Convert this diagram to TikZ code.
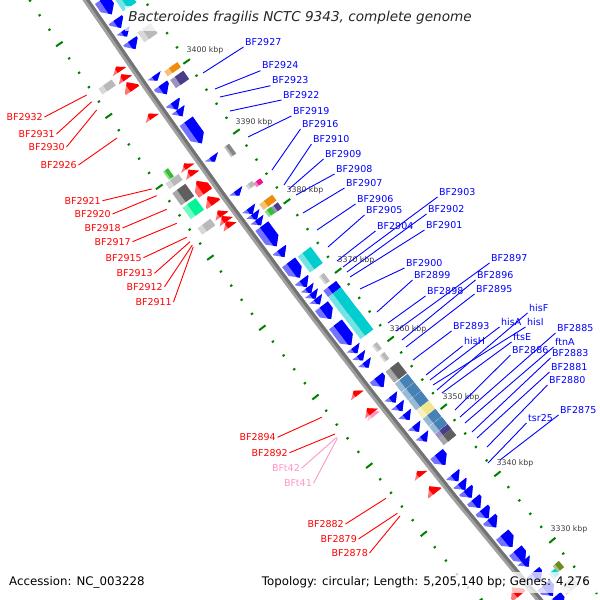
\documentclass[tikz,border=0pt]{standalone}
\usepackage{fontspec}
\setmainfont{DejaVu Sans}
\usetikzlibrary{calc}

\definecolor{gblue}{RGB}{0,0,255}
\definecolor{gred}{RGB}{255,0,0}
\definecolor{gpink}{RGB}{255,150,200}
\definecolor{tgreen}{RGB}{0,128,0}
\definecolor{gcyan}{RGB}{0,205,205}
\definecolor{lgray}{RGB}{185,185,185}
\definecolor{mgray}{RGB}{135,135,135}
\definecolor{dgray}{RGB}{95,95,95}
\definecolor{gorange}{RGB}{240,140,10}
\definecolor{gslate}{RGB}{72,61,139}
\definecolor{ggreen}{RGB}{50,190,50}
\definecolor{gmint}{RGB}{0,245,150}
\definecolor{gmag}{RGB}{235,20,140}
\definecolor{gsteel}{RGB}{70,130,180}
\definecolor{gkhaki}{RGB}{240,230,140}
\definecolor{golive}{RGB}{110,140,30}
\definecolor{kgray}{RGB}{60,60,60}
\definecolor{bbgray}{RGB}{160,160,160}
\definecolor{bbdark}{RGB}{115,115,115}

\tikzset{
  blab/.style={anchor=south west, inner sep=1.5pt, text=gblue, font=\fontsize{9.5}{11}\selectfont},
  rlab/.style={anchor=east, inner sep=1.5pt, text=gred, font=\fontsize{9.5}{11}\selectfont},
  plab/.style={rlab, text=gpink},
  bline/.style={draw=gblue, line width=0.9pt},
  rline/.style={draw=gred, line width=0.9pt},
  pline/.style={draw=gpink, line width=0.9pt},
  tick/.style={draw=tgreen, line width=2pt},
  kbp/.style={text=kgray, font=\fontsize{7.8}{9}\selectfont, inner sep=0pt},
  capbox/.style={fill=white, fill opacity=0.75},
  bbone/.style={draw=bbgray, line width=6pt},
  bbtop/.style={draw=bbdark, line width=3pt}
}

% one feature: s along the track, length, radial offset, height, kind (0 box, 1 back, 2 fwd), colour
\newcommand\gene[6]{%
  \pgfmathsetmacro\gth{217.35+0.008*(#1)}%
  \pgfmathsetmacro\gpx{6032.1+7178*cos(\gth)}%
  \pgfmathsetmacro\gpy{4020.7+7178*sin(\gth)}%
  \pgfmathsetmacro\gl{(#2)/2}%
  \pgfmathsetmacro\gb{\gl-min(8,#2)}%
  \pgfmathsetmacro\gbn{min(8,#2)-\gl}%
  \pgfmathsetmacro\gya{#3}%
  \pgfmathsetmacro\gm{#3+(#4)/2}%
  \pgfmathsetmacro\gt{#3+(#4)}%
  \pgfmathsetmacro\gc{#3+0.64*(#4)}%
  \ifcase#5
    \def\gpath{(-\gl,\gya) rectangle (\gl,\gt)}%
  \or
    \def\gpath{(\gl,\gya) -- (\gbn,\gya) -- (-\gl,\gm) -- (\gbn,\gt) -- (\gl,\gt) -- cycle}%
  \or
    \def\gpath{(-\gl,\gya) -- (\gb,\gya) -- (\gl,\gm) -- (\gb,\gt) -- (-\gl,\gt) -- cycle}%
  \fi
  \begin{scope}[shift={(\gpx,\gpy)},rotate=\gth-90]
    \fill[#6!55!white] \gpath;
    \begin{scope}
      \clip (-\gl-1,\gya-1) rectangle (\gl+1,\gc);
      \fill[#6] \gpath;
    \end{scope}
  \end{scope}}
\newcommand\bgene[2]{\gene{#1}{#2}{-21}{16}{1}{gblue}}
\newcommand\rgene[2]{\gene{#1}{#2}{5}{16}{2}{gred}}
\newcommand\featin[3]{\gene{#1}{#2}{-40}{16}{0}{#3}}
\newcommand\featout[3]{\gene{#1}{#2}{24}{16}{0}{#3}}

\begin{document}
\begin{tikzpicture}[x=1pt,y=1pt]
  \useasboundingbox (0,0) rectangle (600,-600);
  \coordinate (ctr) at (6032.1,4020.7);
  \begin{scope}
  \clip (0,0) rectangle (600,-600);
  % backbone
  \draw[bbone] plot[smooth,domain=213.8:220.4,samples=25] ({6032.1+7178*cos(\x)},{4020.7+7178*sin(\x)});
  \draw[bbtop] plot[smooth,domain=213.8:220.4,samples=25] ({6032.1+7176.5*cos(\x)},{4020.7+7176.5*sin(\x)});
  % tick rings
  \foreach \k in {3314,3316,...,3424}{
    \pgfmathsetmacro\tth{217.35+(3365-\k)*0.069164}
    \pgfmathtruncatemacro\tmaj{mod(\k,10)==0 ? 1 : 0}
    \pgfmathsetmacro\tl{\tmaj==1 ? 4 : 1.2}
    \pgfmathsetmacro\ia{7130-\tl}
    \pgfmathsetmacro\ib{7130+\tl}
    \pgfmathsetmacro\oa{7225-\tl}
    \pgfmathsetmacro\ob{7225+\tl}
    \draw[tick] ($(ctr)+(\tth:\ia)$) -- ($(ctr)+(\tth:\ib)$);
    \draw[tick] ($(ctr)+(\tth:\oa)$) -- ($(ctr)+(\tth:\ob)$);
  }
  % blue strand
  \bgene{-393.3}{18} \bgene{-372.9}{10} \bgene{-360.9}{7} \bgene{-347.3}{10}
  \bgene{-306.8}{6} \bgene{-292.8}{11} \bgene{-272.8}{9} \bgene{-264.2}{8}
  \bgene{-240.5}{27} \bgene{-207.4}{6} \bgene{-165.6}{6}
  \bgene{-143.4}{7} \bgene{-136.4}{7} \bgene{-129.4}{7}
  \bgene{-112.2}{25} \bgene{-90.9}{9} \bgene{-70.2}{19} \bgene{-53.5}{9}
  \bgene{-44.8}{7} \bgene{-37.8}{7} \bgene{-30.8}{7}
  \bgene{-16.8}{16} \bgene{11.1}{26}
  \bgene{30.8}{7} \bgene{40.0}{7} \bgene{49.2}{7} \bgene{71.0}{12}
  \bgene{92.8}{8} \bgene{103.6}{8} \bgene{115.0}{8} \bgene{130.2}{8} \bgene{142.8}{8}
  \bgene{169.6}{14} \bgene{192.9}{9} \bgene{204.0}{9} \bgene{213.5}{10}
  \bgene{226.4}{11} \bgene{239.7}{11} \bgene{251.5}{11} \bgene{274.5}{16}
  \bgene{294.6}{15} \bgene{304}{8} \bgene{321.1}{12} \bgene{338.9}{14} \bgene{355}{14}
  % inner boxes
  \featin{-388.4}{16}{gcyan} \featin{-348.8}{12}{lgray}
  \featin{-304.5}{6}{gorange} \featin{-292.0}{10}{gslate}
  \gene{-204.7}{12}{-35}{6}{0}{mgray}
  \gene{-164.5}{5}{-32}{8}{0}{lgray} \gene{-161.8}{5}{-40}{8}{0}{gmag}
  \featin{-140.3}{7}{gorange}
  \gene{-131.3}{7}{-32}{8}{0}{ggreen} \gene{-130.9}{7}{-40}{8}{0}{gslate}
  \featin{-68.9}{20}{gcyan} \gene{-45.0}{10}{-35}{6}{0}{lgray}
  \featin{-32}{8}{gblue} \featin{-15.5}{25}{gcyan} \featin{11}{28}{gcyan}
  \gene{41.4}{8}{-35}{6}{0}{lgray} \gene{53.9}{8}{-35}{6}{0}{lgray}
  \featin{73.2}{14}{dgray}
  \featin{86.75}{10.5}{gsteel} \featin{97.75}{10.5}{gsteel} \featin{109.5}{12}{gsteel}
  \featin{121}{10}{gkhaki} \featin{131.25}{9.5}{gsteel} \featin{141}{9}{gsteel}
  \featin{149}{6}{gslate} \featin{156}{8}{dgray}
  \gene{327}{8}{-40}{8}{0}{golive} \gene{330}{7}{-32}{8}{0}{gcyan}
  \featin{349}{10}{lgray}
  % red strand
  \rgene{-335.8}{6} \rgene{-326.2}{7} \rgene{-315.1}{10} \rgene{-278.8}{6}
  \rgene{-217.8}{6} \rgene{-209.9}{7} \rgene{-192.0}{15} \rgene{-175.7}{10}
  \rgene{-159.8}{7} \rgene{-152.8}{7} \rgene{-146.4}{7}
  \rgene{64.6}{6}
  \gene{90.6}{7}{5}{16}{2}{gpink} \rgene{87.0}{7}
  \rgene{166.8}{6} \rgene{187.5}{9} \rgene{318.8}{11}
  % outer boxes
  \featout{-327.3}{7}{lgray} \gene{-221.4}{10}{29}{6}{0}{ggreen}
  \featout{-212.1}{7}{lgray} \featout{-196.2}{15}{dgray}
  \featout{-179.0}{14}{gmint} \featout{-156.9}{8}{lgray}
  \end{scope}

  % tick labels
  \foreach \v/\kx/\ky in {3400/205/50, 3390/254/122, 3380/305/190, 3370/356/260,
      3360/408/329, 3350/461/397, 3340/515/463, 3330/569/529}
    \node[kbp] (k\v) at (\kx,-\ky) {\v\ kbp};

  % blue labels
  \foreach \n/\ex/\ey/\lx/\ly in {BF2927/203/73/243.5/47, BF2924/215/89/260.5/70.7,
      BF2923/220/97/270.5/85.7, BF2922/230/111/281.5/100, BF2919/248/137/291.5/116,
      BF2916/272/170/300.5/129, BF2910/284/185/311.5/144, BF2909/289/189/323.5/159,
      BF2908/296/195/334.5/174, BF2907/303/213/344.5/188, BF2906/317/230/355.5/204,
      BF2905/328/247/364.5/215, BF2904/337/261/375.5/231, BF2903/343/267/437.5/197,
      BF2902/347/272/426.5/214, BF2901/350/277/424.5/230, BF2900/360/289/404.5/268,
      BF2899/377/312/412.5/280, BF2898/388/323/425.5/296, BF2897/396/331/489.5/263,
      BF2896/402/340/475.5/280, BF2895/406/347/474.5/294, BF2893/413/360/451.5/331,
      hisH/426/375/462.5/346, hisA/430/380/499.5/327, hisI/433/385/525.5/327,
      hisF/437/390/527.5/313, ftsE/442/393/511.5/342, BF2886/455/410/510.5/355,
      BF2885/460/417/555.5/333, ftnA/465/423/553.5/347, BF2883/472/432/550.5/358,
      BF2881/477/438/549.5/372, BF2880/487/447/547.5/385, tsr25/488/463/526.5/423,
      BF2875/500/460/558.5/415}{
    \coordinate (g\n) at (\ex,-\ey);
    \node[blab] (l\n) at (\lx,-\ly) {\n};
    \draw[bline] (g\n) -- (l\n.south west);
  }

  % red labels
  \foreach \n/\ex/\ey/\lx/\ly in {BF2932/86.7/95/44.5/117, BF2931/91.7/101.7/56.5/134,
      BF2930/96.7/110/66.5/147, BF2926/117/138/78.5/165, BF2921/151.7/189/102.5/200.7,
      BF2920/156.7/195.7/112.5/214, BF2918/166.7/209.3/122.5/228,
      BF2917/176.7/223.3/132.5/241.7, BF2915/186.7/237.3/143.5/257.7,
      BF2913/190/241.7/154.5/273.3, BF2912/192.3/245/164.5/286.7,
      BF2911/193.3/246.7/173.5/302, BF2894/321.7/417.3/277.5/437.3,
      BF2892/335/434/289.5/452.7, BF2882/386/498.3/345.5/524,
      BF2879/397.3/513.3/358.5/539, BF2878/400/516/369.5/553}{
    \coordinate (g\n) at (\ex,-\ey);
    \node[rlab] (l\n) at (\lx,-\ly) {\n};
    \draw[rline] (g\n) -- (l\n.east);
  }
  \foreach \n/\ex/\ey/\lx/\ly in {BFt42/336.7/437.3/301.5/468.3, BFt41/337.3/438.3/313.5/483.3}{
    \coordinate (g\n) at (\ex,-\ey);
    \node[plab] (l\n) at (\lx,-\ly) {\n};
    \draw[pline] (g\n) -- (l\n.east);
  }

  % captions
  \fill[capbox] (125,-6) rectangle (476,-31);
  \fill[capbox] (5,-572) rectangle (147,-593);
  \fill[capbox] (257,-572) rectangle (600,-593);
  \node[font=\fontsize{13.6}{16}\selectfont\itshape, text=black!85] (title) at (300,-18)
    {Bacteroides fragilis NCTC 9343, complete genome};
  \node[anchor=west, inner sep=0pt, font=\fontsize{11.8}{14}\selectfont] (acc) at (9,-582)
    {Accession: NC\_003228};
  \node[anchor=east, inner sep=0pt, font=\fontsize{11.8}{14}\selectfont] (topo) at (590,-582)
    {Topology: circular; Length: 5,205,140 bp; Genes: 4,276};
\end{tikzpicture}
\end{document}
